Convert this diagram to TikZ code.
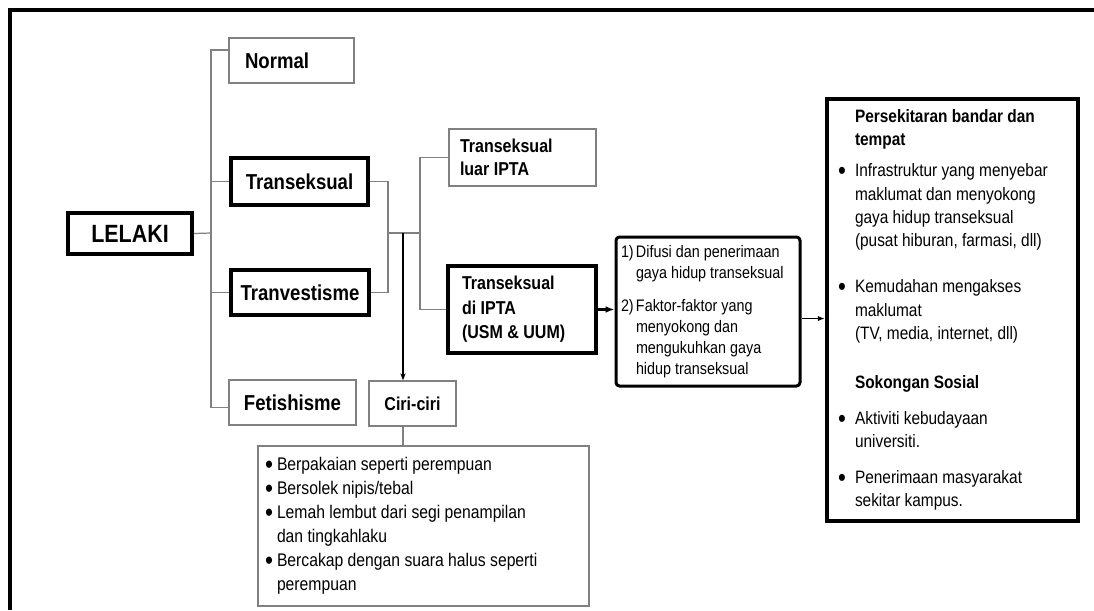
\documentclass[tikz,border=0pt]{standalone}
\usepackage{fontspec}
\setmainfont[FakeStretch=0.86]{Liberation Sans}
\usetikzlibrary{arrows.meta}

\newcommand{\tight}{\spaceskip=0pt\xspaceskip=0pt\relax}
\newcommand{\dotmark}{\raisebox{-0.16em}{\scalebox{1.45}{\textbullet}}}
\newcommand{\bitem}[2][0.24cm]{\tight\hangindent=#1\hangafter=1\noindent\makebox[#1][l]{\dotmark}#2\par}
\newcommand{\nitem}[2]{\tight\hangindent=0.3cm\hangafter=1\noindent\makebox[0.3cm][l]{#1}#2\par}
\newcommand{\bhead}[2][0.34cm]{\tight\hangindent=#1\hangafter=0\noindent\textbf{#2}\par}

\begin{document}
\begin{tikzpicture}[
    thinbox/.style={draw=gray, line width=0.8pt, inner sep=0pt},
    thickbox/.style={draw=black, line width=2.2pt, inner sep=0pt},
    link/.style={draw=gray, line width=0.7pt},
    head/.style={font=\fontsize{12.3}{14}\selectfont\bfseries},
    sub/.style={font=\fontsize{10.6}{13.3}\selectfont\bfseries},
    body/.style={font=\fontsize{10.4}{13.6}\selectfont}
  ]
  \useasboundingbox (0,0) rectangle (21.88,-12.2);
  \draw[line width=2pt] (0.2,-12.2) -- (0.2,-0.2) -- (21.88,-0.2);

  \node (lelaki) at (2.60,-4.67) [thickbox, minimum width=2.48cm, minimum height=0.82cm, font=\fontsize{14.2}{16}\selectfont\bfseries] {LELAKI};
  \node (normal) at (5.83,-1.21) [thinbox, head, minimum width=2.5cm, minimum height=0.9cm, text width=1.86cm, align=left] {Normal};
  \node (transeksual) at (5.99,-3.63) [thickbox, head, minimum width=2.74cm, minimum height=0.94cm] {Transeksual};
  \node (tranvestisme) at (6.00,-5.85) [thickbox, head, minimum width=2.76cm, minimum height=0.9cm] {Tranvestisme};
  \node (fetishisme) at (5.85,-8.05) [thinbox, head, minimum width=2.54cm, minimum height=0.9cm] {Fetishisme};

  \node (luar) at (10.45,-3.15) [thinbox, sub, minimum width=2.94cm, minimum height=1.14cm, text width=2.5cm, align=left] {\tight Transeksual\\luar IPTA};
  \node (diipta) at (10.44,-6.19) [thickbox, minimum width=2.96cm, minimum height=1.74cm, text width=2.4cm, align=left, font=\fontsize{10.6}{14}\selectfont\bfseries] {\tight Transeksual\\di IPTA\\(USM \& UUM)};

  \node (ciri) at (8.25,-8.07) [thinbox, sub, minimum width=1.74cm, minimum height=0.9cm] {Ciri-ciri};
  \node (cirilist) at (8.47,-10.52) [thinbox, body, minimum width=6.62cm, minimum height=3.2cm, text width=6.34cm, align=left] {
    \bitem{Berpakaian seperti perempuan}
    \bitem{Bersolek nipis/tebal}
    \bitem{Lemah lembut dari segi penampilan\newline dan tingkahlaku}
    \bitem{Bercakap dengan suara halus seperti\newline perempuan}};

  \node (faktor) at (14.16,-6.23) [draw, line width=1.7pt, rounded corners=2pt, inner sep=0pt, minimum width=3.68cm, minimum height=2.98cm, text width=3.48cm, align=left, font=\fontsize{9.5}{11.9}\selectfont] {
    \nitem{1)}{Difusi dan penerimaan\newline gaya hidup transeksual}
    \vspace{6.8pt}
    \nitem{2)}{Faktor-faktor yang\newline menyokong dan\newline mengukuhkan gaya\newline hidup transeksual}};

  \node (persekitaran) at (19.05,-6.2) [thickbox, line width=2.4pt, minimum width=5.02cm, minimum height=8.44cm, text width=4.58cm, align=left, font=\fontsize{10.2}{13.3}\selectfont] {
    \bhead{Persekitaran bandar dan\newline tempat}
    \vspace{4.3pt}
    \bitem[0.34cm]{Infrastruktur yang menyebar\newline maklumat dan menyokong\newline gaya hidup transeksual\newline (pusat hiburan, farmasi, dll)}
    \vspace{12.8pt}
    \bitem[0.34cm]{Kemudahan mengakses\newline maklumat\newline (TV, media, internet, dll)}
    \vspace{14.7pt}
    \bhead{Sokongan Sosial}
    \vspace{7pt}
    \bitem[0.34cm]{Aktiviti kebudayaan\newline universiti.}
    \vspace{7pt}
    \bitem[0.34cm]{Penerimaan masyarakat\newline sekitar kampus.}};

  \coordinate (bus) at (4.22,-4.66);
  \coordinate (join) at (7.76,-4.66);
  \coordinate (split) at (8.40,-4.66);
  \coordinate (drop) at (8.06,-4.66);

  \draw[link] ([yshift=6pt]normal.west) -| (bus) |- ([yshift=-3pt]fetishisme.west);
  \draw[link] (lelaki.east) -- (bus);
  \draw[link] (transeksual.west) -- (transeksual.west -| bus);
  \draw[link] (tranvestisme.west) -- (tranvestisme.west -| bus);
  \draw[link] (transeksual.east) -| (join) |- (tranvestisme.east);
  \draw[link] (join) -- (split);
  \draw[link] (luar.west) -| (split) |- (diipta.west);
  \draw[-{Stealth[length=4pt]}, line width=0.6pt] (drop) -- (drop |- ciri.north);
  \draw[link] (ciri.south -| drop) -- (drop |- cirilist.north);
  \draw[-{Latex[length=5pt]}, line width=1.6pt] (diipta.east) -- (diipta.east -| faktor.west);
  \draw[-{Latex[length=4pt]}, line width=1pt] ([yshift=-4pt]faktor.east) -- ([yshift=-4pt]faktor.east -| persekitaran.west);
\end{tikzpicture}
\end{document}
